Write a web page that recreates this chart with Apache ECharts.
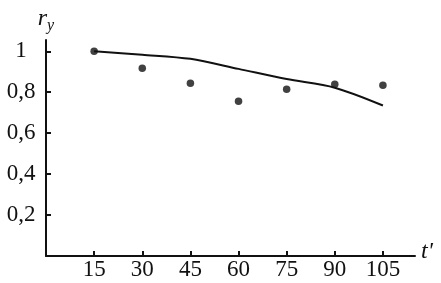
<!DOCTYPE html>
<html>
<head>
<meta charset="utf-8">
<script src="https://cdn.jsdelivr.net/npm/echarts@6/dist/echarts.min.js"></script>
<style>html,body{margin:0;padding:0;background:#fff;}#c{width:441px;height:283px;}</style>
</head>
<body>
<div id="c"></div>
<script>
const tValues = [15, 30, 45, 60, 75, 90, 105];
const pointValues = [1.0, 0.917, 0.844, 0.756, 0.815, 0.839, 0.834];
const lineValues = [1.0, 0.983, 0.963, 0.914, 0.864, 0.822, 0.735];
const yTicks = [0.2, 0.4, 0.6, 0.8, 1.0];
const yTickLabels = ['0,2', '0,4', '0,6', '0,8', '1'];

const font = '"Liberation Serif", "Times New Roman", serif';
const chart = echarts.init(document.getElementById('c'), null, {renderer: 'canvas'});
chart.setOption({
  animation: false,
  backgroundColor: '#fff',
  grid: {left: 46, right: 26, top: 40, bottom: 27},
  xAxis: {
    type: 'value', min: 0, max: 115,
    axisLine: {lineStyle: {color: '#111', width: 2}},
    axisTick: {show: true, inside: true, length: 5, lineStyle: {color: '#111', width: 2}, customValues: tValues},
    axisLabel: {customValues: tValues, color: '#111', fontFamily: font, fontSize: 23, margin: 2},
    splitLine: {show: false},
    name: "t'", nameLocation: 'end', nameGap: 6,
    nameTextStyle: {fontFamily: font, fontStyle: 'italic', fontSize: 24, color: '#111', verticalAlign: 'bottom', padding: [0, 0, -8, 0]}
  },
  yAxis: {
    type: 'value', min: 0, max: 1.055,
    axisLine: {show: true, lineStyle: {color: '#111', width: 2}},
    axisTick: {show: true, inside: true, length: 5, lineStyle: {color: '#111', width: 2}, customValues: yTicks},
    axisLabel: {customValues: yTicks, color: '#111', fontFamily: font, fontSize: 23, margin: 25, align: 'center',
      formatter: v => { const i = yTicks.findIndex(t => Math.abs(t - v) < 1e-6); return i >= 0 ? yTickLabels[i] : ''; }},
    splitLine: {show: false},
    name: '{r|r}{s|y}', nameLocation: 'end', nameGap: 6,
    nameTextStyle: {align: 'center', padding: [0, 0, 0, 0],
      rich: {r: {fontFamily: font, fontStyle: 'italic', fontSize: 24, color: '#111'},
             s: {fontFamily: font, fontStyle: 'italic', fontSize: 16, color: '#111', padding: [14, 0, 0, 0]}}}
  },
  series: [
    {type: 'line', data: tValues.map((t, i) => [t, lineValues[i]]), smooth: 0.3, showSymbol: false,
     lineStyle: {color: '#111', width: 2}},
    {type: 'scatter', data: tValues.map((t, i) => [t, pointValues[i]]), symbol: 'circle', symbolSize: 7.5,
     itemStyle: {color: '#111'}}
  ]
});
</script>
</body>
</html>
